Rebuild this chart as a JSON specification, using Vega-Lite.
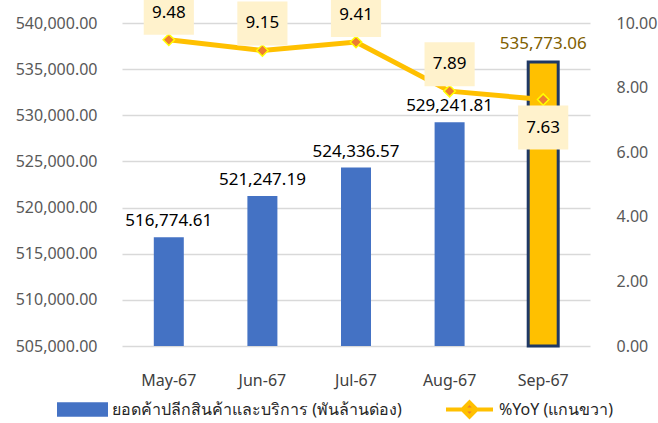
{
  "$schema": "https://vega.github.io/schema/vega-lite/v6.json",
  "width": 468,
  "height": 323,
  "autosize": {"type": "none"},
  "padding": {"left": 122, "top": 23, "right": 68, "bottom": 77},
  "background": "white",
  "view": {"stroke": "transparent", "strokeWidth": 0},
  "config": {
    "view": {"stroke": "transparent", "strokeWidth": 0},
    "font": "Noto Sans",
    "axis": {"domain": false, "ticks": false, "domainColor": "transparent", "tickColor": "transparent", "domainOpacity": 0, "domainWidth": 0, "tickWidth": 0},
    "axisX": {"grid": false},
    "axisRight": {"domain": false, "domainOpacity": 0, "domainWidth": 0, "labelColor": "#595959", "grid": false},
    "axisQuantitative": {"domain": false}
  },
  "data": {"values": [
    {"month": "May-67", "sales": 516774.61, "yoy": 9.48},
    {"month": "Jun-67", "sales": 521247.19, "yoy": 9.15},
    {"month": "Jul-67", "sales": 524336.57, "yoy": 9.41},
    {"month": "Aug-67", "sales": 529241.81, "yoy": 7.89},
    {"month": "Sep-67", "sales": 535773.06, "yoy": 7.63}
  ]},
  "encoding": {
    "x": {"field": "month", "type": "ordinal", "sort": null,
      "scale": {"paddingInner": 0, "paddingOuter": 0},
      "axis": {"title": null, "labelAngle": 0, "domain": false, "ticks": false, "grid": false, "labelPadding": 26, "labelFontSize": 16, "labelColor": "#404040", "labelFont": "Noto Sans"}}
  },
  "layer": [
    {"layer": [
      {"mark": {"type": "bar", "size": 30},
       "encoding": {
         "y": {"field": "sales", "type": "quantitative", "scale": {"domain": [505000, 540000], "zero": false},
           "axis": {"values": [505000, 510000, 515000, 520000, 525000, 530000, 535000, 540000], "format": ",.2f", "grid": true, "gridColor": "#D9D9D9", "gridWidth": 1.5, "domain": false, "ticks": false, "labelPadding": 25, "labelFontSize": 16, "labelColor": "#595959", "labelFont": "Noto Sans", "title": null}},
         "y2": {"datum": 505000},
         "color": {"datum": "ยอดค้าปลีกสินค้าและบริการ (พันล้านด่อง)", "type": "nominal",
           "scale": {"range": ["#4472C4"]},
           "legend": {
             "title": null, "orient": "none", "legendX": -65, "legendY": 361,
             "padding": 0, "labelFontSize": 16, "labelFont": "Noto Sans", "labelColor": "#262626", "labelLimit": 500,
             "symbolSize": 2601, "labelOffset": 4, "symbolStrokeWidth": 0,
             "symbolType": "M-1,-0.28H1V0.28H-1Z"
           }}
       }},
      {"transform": [{"filter": "datum.month === 'Sep-67'"}],
       "mark": {"type": "bar", "size": 30, "fill": "#FFC000", "stroke": "#1F3864", "strokeWidth": 3},
       "encoding": {"y": {"field": "sales", "type": "quantitative"}, "y2": {"datum": 505000}}},
      {"transform": [{"filter": "datum.month !== 'Sep-67'"}],
       "mark": {"type": "text", "dy": -16, "fontSize": 17, "color": "#000000", "font": "Noto Sans"},
       "encoding": {"y": {"field": "sales", "type": "quantitative"}, "text": {"field": "sales", "type": "quantitative", "format": ",.2f"}}},
      {"transform": [{"filter": "datum.month === 'Sep-67'"}],
       "mark": {"type": "text", "dy": -18, "fontSize": 17, "color": "#7F6000", "font": "Noto Sans"},
       "encoding": {"y": {"field": "sales", "type": "quantitative"}, "text": {"field": "sales", "type": "quantitative", "format": ",.2f"}}}
    ]},
    {"layer": [
      {"mark": {"type": "line", "strokeWidth": 5},
       "encoding": {
         "y": {"field": "yoy", "type": "quantitative", "scale": {"domain": [0, 10]},
           "axis": {"orient": "right", "values": [0, 2, 4, 6, 8, 10], "format": ".2f", "grid": false, "domain": false, "domainWidth": 0, "domainColor": "transparent", "ticks": false, "labelPadding": 26, "labelFontSize": 16, "labelColor": "#595959", "labelFont": "Noto Sans", "title": null}},
         "stroke": {"datum": "%YoY (แกนขวา)", "type": "nominal",
           "scale": {"range": ["#FFC000"]},
           "legend": {
             "title": null, "orient": "none", "legendX": 322, "legendY": 361,
             "padding": 0, "labelFontSize": 16, "labelFont": "Noto Sans", "labelColor": "#262626", "labelLimit": 500,
             "symbolSize": 2209, "labelOffset": 4, "symbolStrokeWidth": 4, "symbolFillColor": "#ED7D31",
             "symbolType": "M-1,0H1M0,-0.3L0.3,0L0,0.3L-0.3,0Z"
           }}}},
      {"mark": {"type": "point", "shape": "diamond", "filled": true, "fill": "#ED7D31", "stroke": "#FFFF00", "strokeWidth": 1.5, "size": 130, "opacity": 1},
       "encoding": {"y": {"field": "yoy", "type": "quantitative"}}},
      {"transform": [{"filter": "datum.month !== 'Sep-67'"}],
       "mark": {"type": "point", "shape": "M-1.14,-1H1.14V1H-1.14Z", "filled": true, "fill": "#FFF2CC", "size": 1936, "yOffset": -27, "opacity": 1, "strokeWidth": 0},
       "encoding": {"y": {"field": "yoy", "type": "quantitative"}}},
      {"transform": [{"filter": "datum.month === 'Sep-67'"}],
       "mark": {"type": "point", "shape": "M-1.14,-1H1.14V1H-1.14Z", "filled": true, "fill": "#FFF2CC", "size": 1936, "yOffset": 28, "opacity": 1, "strokeWidth": 0},
       "encoding": {"y": {"field": "yoy", "type": "quantitative"}}},
      {"transform": [{"filter": "datum.month !== 'Sep-67'"}],
       "mark": {"type": "text", "yOffset": -27, "fontSize": 17, "color": "#000000", "font": "Noto Sans"},
       "encoding": {"y": {"field": "yoy", "type": "quantitative"}, "text": {"field": "yoy", "type": "quantitative", "format": ".2f"}}},
      {"transform": [{"filter": "datum.month === 'Sep-67'"}],
       "mark": {"type": "text", "yOffset": 28, "fontSize": 17, "color": "#000000", "font": "Noto Sans"},
       "encoding": {"y": {"field": "yoy", "type": "quantitative"}, "text": {"field": "yoy", "type": "quantitative", "format": ".2f"}}}
    ]}
  ],
  "resolve": {"scale": {"y": "independent"}}
}
